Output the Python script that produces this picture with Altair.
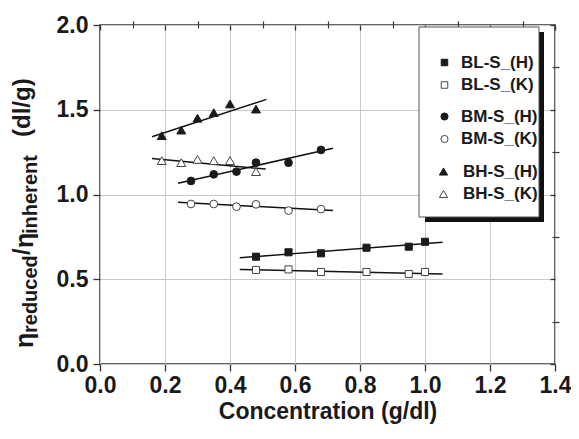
import altair as alt
import pandas as pd

FONT = "Liberation Sans"
INK = "#1a1a1a"

# ---------------- data ----------------
conc_BL = [0.48, 0.58, 0.68, 0.82, 0.95, 1.00]
eta_BL_H = [0.633, 0.659, 0.653, 0.686, 0.692, 0.721]
eta_BL_K = [0.555, 0.558, 0.543, 0.543, 0.531, 0.543]

conc_BM = [0.28, 0.35, 0.42, 0.48, 0.58, 0.68]
eta_BM_H = [1.080, 1.119, 1.135, 1.188, 1.188, 1.263]
eta_BM_K = [0.944, 0.944, 0.928, 0.942, 0.905, 0.914]

conc_BH = [0.19, 0.25, 0.30, 0.35, 0.40, 0.48]
eta_BH_H = [1.347, 1.380, 1.450, 1.483, 1.534, 1.504]
eta_BH_K = [1.200, 1.188, 1.207, 1.200, 1.200, 1.135]

# fitted straight lines: end points
fit_series = ["BL-S_(H)", "BL-S_(K)", "BM-S_(H)", "BM-S_(K)", "BH-S_(H)", "BH-S_(K)"]
fit_c0 = [0.43, 0.43, 0.24, 0.24, 0.16, 0.16]
fit_c1 = [1.054, 1.054, 0.717, 0.717, 0.512, 0.51]
fit_v0 = [0.627, 0.558, 1.066, 0.954, 1.341, 1.213]
fit_v1 = [0.718, 0.531, 1.273, 0.905, 1.561, 1.150]

x_major = [0.0, 0.2, 0.4, 0.6, 0.8, 1.0, 1.2, 1.4]
x_minor = [0.1, 0.3, 0.5, 0.7, 0.9, 1.1, 1.3]
y_major = [0.0, 0.5, 1.0, 1.5, 2.0]
y_minor = [0.25, 0.75, 1.25, 1.75]

# ---------------- tables ----------------
def group_df(xs, yh, yk, nh, nk):
    return pd.DataFrame({
        "c": xs + xs,
        "v": yh + yk,
        "series": [nh] * len(xs) + [nk] * len(xs),
    })

df_BL = group_df(conc_BL, eta_BL_H, eta_BL_K, "BL-S_(H)", "BL-S_(K)")
df_BM = group_df(conc_BM, eta_BM_H, eta_BM_K, "BM-S_(H)", "BM-S_(K)")
df_BH = group_df(conc_BH, eta_BH_H, eta_BH_K, "BH-S_(H)", "BH-S_(K)")
df_all = pd.concat([df_BL, df_BM, df_BH], ignore_index=True)

df_fit = pd.DataFrame({
    "c": fit_c0 + fit_c1,
    "v": fit_v0 + fit_v1,
    "series": fit_series + fit_series,
})

one = pd.DataFrame({"k": [0]})

XS = alt.Scale(domain=[0, 1.4], nice=False, zero=False)
YS = alt.Scale(domain=[0, 2.0], nice=False, zero=False)


def xenc(axis):
    return alt.X("c:Q", scale=XS, axis=axis)


def yenc(axis):
    return alt.Y("v:Q", scale=YS, axis=axis)


# ---------------- axes ----------------
x_axis_main = alt.Axis(
    values=x_major, format=".1f", grid=True, gridColor="#c8c8c8", gridWidth=1,
    domain=False, tickSize=7, tickColor="#333333", tickWidth=1.3,
    labelFont=FONT, labelFontSize=23, labelFontWeight="bold", labelColor=INK,
    labelPadding=3, labelFlush=False, labelOverlap=False,
    title="Concentration (g/dl)", titleFont=FONT, titleFontSize=23,
    titleFontWeight="bold", titleColor=INK, titlePadding=3,
)
y_axis_main = alt.Axis(
    values=y_major, format=".1f", grid=True, gridColor="#c8c8c8", gridWidth=1,
    domain=False, tickSize=7, tickColor="#333333", tickWidth=1.3,
    labelFont=FONT, labelFontSize=23, labelFontWeight="bold", labelColor=INK,
    labelPadding=5, labelFlush=False, labelOverlap=False, title=None,
)
x_axis_minor = alt.Axis(values=x_minor, grid=False, domain=False, labels=False,
                        tickSize=4, tickColor="#333333", tickWidth=1.2, title=None)
y_axis_minor = alt.Axis(values=y_minor, grid=False, domain=False, labels=False,
                        tickSize=4, tickColor="#333333", tickWidth=1.2, title=None)
# mirrored (inward) ticks on top and right
x_axis_top = alt.Axis(orient="bottom", offset=-339, values=x_major, grid=False,
                      domain=False, labels=False, tickSize=5, tickColor="#333333",
                      tickWidth=1.3, title=None)
y_axis_right = alt.Axis(orient="left", offset=-455, values=y_major, grid=False,
                        domain=False, labels=False, tickSize=5, tickColor="#333333",
                        tickWidth=1.3, title=None)
x_axis_top_minor = alt.Axis(orient="bottom", offset=-339, values=x_minor, grid=False,
                            domain=False, labels=False, tickSize=3,
                            tickColor="#333333", tickWidth=1.2, title=None)
y_axis_right_minor = alt.Axis(orient="left", offset=-455, values=y_minor, grid=False,
                              domain=False, labels=False, tickSize=3,
                              tickColor="#333333", tickWidth=1.2, title=None)

ax1 = alt.Chart(df_all).mark_point(opacity=0).encode(x=xenc(x_axis_main), y=yenc(y_axis_main))
ax2 = alt.Chart(df_all).mark_point(opacity=0).encode(x=xenc(x_axis_minor), y=yenc(y_axis_minor))
ax3 = alt.Chart(df_all).mark_point(opacity=0).encode(x=xenc(x_axis_top), y=yenc(y_axis_right))
ax4 = alt.Chart(df_all).mark_point(opacity=0).encode(x=xenc(x_axis_top_minor), y=yenc(y_axis_right_minor))

# ---------------- legend box with shadow ----------------
shadow = alt.Chart(one).mark_rect(fill="#111111").encode(
    x=alt.value(325), x2=alt.value(444), y=alt.value(7), y2=alt.value(197))
box = alt.Chart(one).mark_rect(fill="white", stroke="#555555", strokeWidth=1).encode(
    x=alt.value(319), x2=alt.value(439), y=alt.value(2), y2=alt.value(192))

# ---------------- fit lines ----------------
lines = alt.Chart(df_fit).mark_line(color="#111111", strokeWidth=1.5).encode(
    x=xenc(None), y=yenc(None), detail="series:N")


# ---------------- points (three legends) ----------------
def points(df, names, shape, size, lx, ly, loff):
    leg = alt.Legend(
        orient="none", legendX=lx, legendY=ly, title=None, padding=0,
        labelFont=FONT, labelFontSize=17, labelFontWeight="bold", labelColor=INK,
        labelOffset=loff, rowPadding=4.5, symbolSize=size * 0.85, symbolStrokeWidth=1,
        labelLimit=300,
    )
    return alt.Chart(df).mark_point(filled=True, opacity=1, size=size, strokeWidth=1).encode(
        x=xenc(None), y=yenc(None),
        shape=alt.Shape("series:N", scale=alt.Scale(domain=names, range=[shape, shape]), legend=leg),
        fill=alt.Fill("series:N", scale=alt.Scale(domain=names, range=[INK, "white"]), legend=leg),
        stroke=alt.Stroke("series:N", scale=alt.Scale(domain=names, range=[INK, "#444444"]), legend=leg),
    )


p_BL = points(df_BL, ["BL-S_(H)", "BL-S_(K)"], "square", 50, 336, 29, 8)
p_BM = points(df_BM, ["BM-S_(H)", "BM-S_(K)"], "circle", 60, 336, 83, 8)
p_BH = points(df_BH, ["BH-S_(H)", "BH-S_(K)"], "triangle-up", 80, 335, 138, 11)

# ---------------- y title built from pieces (with subscripts) ----------------
title_pieces = ["η", "reduced", "/", "η", "inherent", "(dl/g)"]
title_sizes = [25, 20, 23, 25, 20, 24]
title_x = [-67, -63, -70, -67, -63, -70]
title_y = [323, 308, 230, 223, 209, 112]
title_layers = []
for t, s, tx, ty in zip(title_pieces, title_sizes, title_x, title_y):
    title_layers.append(
        alt.Chart(one).mark_text(angle=270, align="left", baseline="alphabetic",
                                 font=FONT, fontSize=s, fontWeight="bold", color=INK).encode(
            x=alt.value(tx), y=alt.value(ty), text=alt.value(t))
    )

chart = alt.layer(
    ax1, ax2, ax3, ax4, lines, shadow, box, p_BL, p_BM, p_BH, *title_layers
).resolve_scale(
    shape="independent", fill="independent", stroke="independent"
).resolve_axis(
    x="independent", y="independent"
).properties(
    width=455, height=339,
    autosize=alt.AutoSizeParams(type="none"),
    padding={"left": 92, "top": 17, "right": 16, "bottom": 60},
    background="white",
).configure_view(
    stroke="#333333", strokeWidth=1.5
)

chart.save("out.html", embed_options={"renderer": "svg", "actions": False})
